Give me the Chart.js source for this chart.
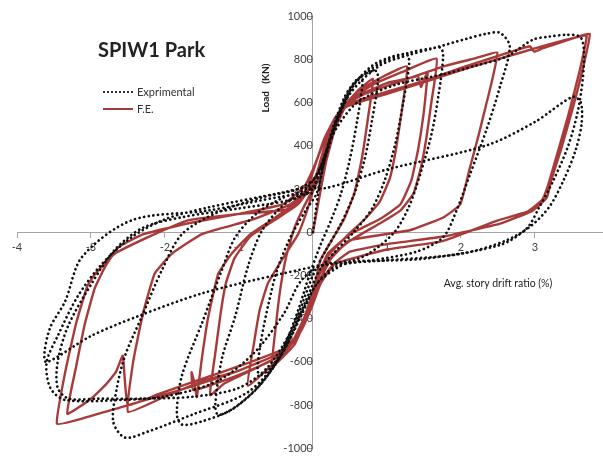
<!DOCTYPE html>
<html>
<head>
<meta charset="utf-8">
<script src="https://cdn.jsdelivr.net/npm/chart.js@4.4.1/dist/chart.umd.min.js"></script>
<style>
	html, body {
		margin: 0;
		padding: 0;
		background: #ffffff;
	}
	#wrap {
		position: relative;
		width: 603px;
		height: 459px;
		font-family: Lato, "Open Sans", sans-serif;
	}
	canvas {
		position: absolute;
		left: 0;
		top: 0;
	}
	.label {
		position: absolute;
		white-space: nowrap;
		line-height: 1;
		color: #333333;
	}
	.sample {
		position: absolute;
		width: 30px;
		height: 0;
	}
</style>
</head>
<body>
<div id="wrap">
	<canvas id="chart" width="603" height="459"></canvas>
	<div class="label" style="left: 98px; top: 39px; font-size: 20px; font-weight: bold; color: #222222;">SPIW1 Park</div>
	<div class="sample" style="left: 103px; top: 91px; border-top: 2px dotted #333333;"></div>
	<div class="label" style="left: 137px; top: 86px; font-size: 11px;">Exprimental</div>
	<div class="sample" style="left: 103px; top: 108px; border-top: 2px solid #a83a3a;"></div>
	<div class="label" style="left: 137px; top: 103px; font-size: 11px;">F.E.</div>
	<div class="label" style="left: 265px; top: 88px; font-size: 10px; font-weight: bold; color: #222222; transform: translate(-50%, -50%) rotate(-90deg);">Load&nbsp;&nbsp;&nbsp;(KN)</div>
	<div class="label" style="left: 498px; top: 283px; font-size: 10.5px; color: #222222; transform: translate(-50%, -50%);">Avg. story drift ratio (%)</div>
</div>
<script>
// drift ratio (%), load (kN), one array per cycle
const expCycle1 = [
	[0, 0], [0.1, 240], [0.25, 460], [0.42, 620], [0.55, 690], [0.64, 717], [0.67, 690],
	[0.6, 520], [0.5, 340], [0.38, 180], [0.25, 60], [0.1, -60], [-0.05, -200], [-0.2, -360],
	[-0.38, -520], [-0.55, -620], [-0.7, -660], [-0.75, -640], [-0.7, -500], [-0.6, -330],
	[-0.48, -170], [-0.3, -20], [-0.1, 100], [0.05, 180]
];
const expCycle2 = [
	[0.15, 320], [0.3, 500], [0.48, 650], [0.65, 720], [0.8, 745], [0.86, 744], [0.88, 700],
	[0.8, 520], [0.7, 340], [0.56, 180], [0.38, 40], [0.18, -80], [0, -200], [-0.2, -380],
	[-0.45, -580], [-0.75, -720], [-1.05, -810], [-1.28, -845], [-1.32, -800], [-1.23, -584],
	[-1.05, -388], [-0.88, -160], [-0.7, 0], [-0.45, 110], [-0.2, 170], [0, 210]
];
const expCycle3 = [
	[0.15, 330], [0.35, 530], [0.55, 680], [0.8, 770], [1.05, 810], [1.27, 822], [1.3, 780],
	[1.22, 600], [1.12, 420], [0.98, 250], [0.8, 110], [0.55, 0], [0.3, -90], [0.1, -170],
	[-0.1, -320], [-0.35, -520], [-0.7, -700], [-1.1, -820], [-1.5, -875], [-1.77, -890],
	[-1.84, -840], [-1.77, -662], [-1.5, -420], [-1.23, -174], [-1.05, -23], [-0.75, 90],
	[-0.4, 160], [-0.1, 200]
];
const expCycle4 = [
	[0.1, 300], [0.3, 500], [0.55, 680], [0.9, 780], [1.3, 830], [1.6, 850], [1.72, 854],
	[1.76, 820], [1.7, 640], [1.6, 450], [1.46, 280], [1.3, 120], [1.1, 0], [0.75, -100],
	[0.35, -160], [0.05, -240], [-0.15, -380], [-0.45, -580], [-0.88, -740], [-1.64, -845],
	[-2.23, -922], [-2.54, -950], [-2.7, -876], [-2.65, -720], [-2.54, -571], [-2.31, -388],
	[-2.04, -174], [-1.77, -9], [-1.3, 90], [-0.7, 160], [-0.2, 200]
];
const expCycle5 = [
	[0.05, 260], [0.25, 450], [0.5, 640], [0.9, 770], [1.3, 820], [1.62, 850], [2.08, 895],
	[2.35, 918], [2.53, 922], [2.66, 858], [2.53, 676], [2.35, 479], [2.12, 265], [1.94, 100],
	[1.76, -23], [1.4, -90], [0.8, -130], [0.3, -160], [0.05, -240], [-0.2, -400], [-0.6, -620],
	[-1.0, -720], [-1.6, -760], [-2.3, -770], [-2.9, -770], [-3.3, -770], [-3.45, -720],
	[-3.45, -600], [-3.31, -434], [-2.99, -237], [-2.68, -82], [-2.3, 20], [-1.76, 70],
	[-1.0, 110], [-0.3, 150], [0, 200]
];
const expCycle6 = [
	[0.1, 300], [0.3, 470], [0.6, 600], [1.1, 680], [1.76, 730], [2.2, 770], [2.62, 813],
	[2.97, 890], [3.2, 905], [3.43, 913], [3.61, 904], [3.66, 850], [3.65, 720], [3.58, 560],
	[3.45, 400], [3.25, 240], [3.05, 110], [2.89, 18], [2.53, -59], [1.49, -123], [0.19, -146],
	[-0.15, -220], [-0.4, -380], [-0.8, -560], [-1.3, -690], [-2.0, -760], [-2.6, -776],
	[-3.35, -776], [-3.55, -720], [-3.6, -602], [-3.45, -480], [-3.18, -297], [-2.85, -146],
	[-2.45, -23], [-2.0, 60], [-1.42, 114], [-0.42, 183], [-0.1, 205], [0.19, 205]
];
const expCycle7 = [
	[1.0, 290], [2.35, 402], [3.0, 510], [3.51, 626], [3.62, 600], [3.63, 500], [3.55, 380],
	[3.4, 250], [3.2, 120], [2.95, 30], [2.6, -40], [2.0, -100], [1.0, -130], [0.2, -150],
	[-0.42, -192], [-1.5, -283], [-2.36, -388], [-3.0, -480], [-3.6, -602], [-3.63, -560],
	[-3.55, -440], [-3.35, -320], [-3.12, -114], [-2.45, 55], [-1.42, 100], [-0.42, 165], [0, 180]
];

const feCycle1 = [
	[0, 0], [0.08, 150], [0.18, 330], [0.3, 480], [0.45, 590], [0.62, 660], [0.81, 708],
	[0.74, 520], [0.66, 340], [0.56, 180], [0.42, 60], [0.25, -40], [0.1, -130], [0.02, -250],
	[-0.1, -400], [-0.25, -520], [-0.55, -620], [-0.5, -430], [-0.44, -260], [-0.36, -110],
	[-0.25, 20], [-0.12, 120], [0, 200]
];
const feCycle2 = [
	[0.1, 330], [0.22, 460], [0.38, 570], [0.6, 650], [0.95, 720], [1.27, 767],
	[1.2, 560], [1.12, 380], [1.04, 250], [0.9, 140], [0.7, 60], [0.45, -20], [0.2, -110],
	[0.06, -220], [-0.05, -350], [-0.2, -480], [-0.45, -580], [-0.88, -710], [-0.8, -520],
	[-0.72, -360], [-0.61, -237], [-0.42, -128], [-0.2, -9], [-0.08, 100], [0, 190]
];
const feCycle3 = [
	[0.1, 260], [0.25, 460], [0.42, 590], [0.8, 680], [1.2, 740], [1.67, 803],
	[1.6, 600], [1.53, 430], [1.46, 300], [1.36, 180], [1.18, 100], [0.9, 40], [0.5, -40],
	[0.25, -110], [0.08, -200], [-0.05, -330], [-0.2, -470], [-0.45, -570], [-0.9, -650],
	[-1.2, -700], [-1.39, -753], [-1.32, -560], [-1.25, -380], [-1.18, -240], [-1.06, -120],
	[-0.85, -20], [-0.5, 60], [-0.2, 130], [-0.05, 200]
];
const feCycle4 = [
	[0.05, 260], [0.2, 430], [0.38, 560], [0.6, 630], [1.0, 690], [1.3, 712], [1.42, 722],
	[1.46, 672], [1.5, 705], [1.55, 740], [1.5, 560], [1.42, 380], [1.33, 240], [1.18, 128],
	[0.9, 60], [0.5, -10], [0.2, -100], [0.05, -220], [-0.1, -380], [-0.3, -520], [-0.6, -600],
	[-1.0, -660], [-1.45, -715], [-1.62, -730], [-1.64, -648], [-1.6, -700], [-1.57, -762],
	[-1.5, -580], [-1.42, -400], [-1.28, -192], [-1.1, -100], [-0.85, -10], [-0.5, 70],
	[-0.2, 150], [-0.05, 210]
];
const feCycle5 = [
	[0.05, 270], [0.2, 440], [0.4, 580], [0.7, 640], [1.2, 700], [1.8, 770], [2.2, 805],
	[2.49, 831], [2.42, 700], [2.35, 603], [2.24, 450], [2.12, 297], [1.99, 128], [1.76, 68],
	[1.31, 9], [0.5, -37], [0.25, -120], [0.08, -230], [-0.05, -360], [-0.22, -490],
	[-0.45, -560], [-1.0, -640], [-1.5, -690], [-2.0, -760], [-2.5, -831], [-2.43, -600],
	[-2.3, -380], [-2.14, -192], [-1.91, -100], [-1.5, -9], [-0.8, 60], [-0.3, 130], [-0.08, 200]
];
const feCycle6 = [
	[0.02, 300], [0.15, 430], [0.3, 530], [0.45, 590], [1.0, 650], [1.5, 700], [2.0, 760],
	[2.5, 815], [2.93, 860], [2.99, 835], [3.1, 850], [3.5, 895], [3.74, 918], [3.65, 760],
	[3.5, 560], [3.35, 380], [3.22, 240], [3.16, 160], [2.97, 100], [2.53, 40], [1.76, -20],
	[1.0, -55], [0.5, -90], [0.28, -146], [0.12, -220], [0, -330], [-0.15, -450], [-0.4, -540],
	[-1.0, -620], [-1.6, -690], [-2.1, -750], [-2.5, -800], [-2.57, -571], [-2.66, -645],
	[-2.8, -705], [-3.0, -770], [-3.32, -840], [-3.2, -620], [-3.08, -420], [-2.95, -260],
	[-2.81, -160], [-2.63, -70], [-2.3, -10], [-1.7, 40], [-1.0, 85], [-0.4, 130], [-0.12, 210]
];
const feCycle7 = [
	[0, 290], [0.15, 420], [0.3, 520], [0.45, 580], [1.0, 640], [1.6, 705], [2.2, 770],
	[2.8, 830], [3.2, 870], [3.6, 905], [3.7, 910], [3.6, 740], [3.45, 540], [3.3, 360],
	[3.18, 220], [3.1, 150], [2.9, 95], [2.5, 55], [1.75, -41], [1.0, -80], [0.3, -146],
	[0.1, -240], [-0.02, -350], [-0.2, -480], [-0.45, -560], [-1.0, -640], [-1.8, -730],
	[-2.6, -810], [-3.1, -860], [-3.46, -886], [-3.35, -650], [-3.2, -420], [-3.05, -250],
	[-2.95, -196], [-2.68, -100], [-2.23, -23], [-1.69, 55], [-1.0, 85], [-0.34, 105],
	[-0.1, 180], [0, 230]
];

const driftTicks = [-4, -3, -2, -1, 1, 2, 3];
const loadTicks = [-1000, -800, -600, -400, -200, 0, 200, 400, 600, 800, 1000];

function toPoints(cycles) {
	return [].concat(...cycles).map(p => ({ x: p[0], y: p[1] }));
}

function drawChart() {
	const context = document.getElementById("chart").getContext("2d");
	const tickFont = { family: "Lato, 'Open Sans', sans-serif", size: 11 };
	const datasets = [
		{
			label: "Exprimental",
			data: toPoints([expCycle1, expCycle2, expCycle3, expCycle4, expCycle5, expCycle6, expCycle7]),
			borderColor: "#111111",
			borderWidth: 2.7,
			borderDash: [0.1, 4.6],
			borderCapStyle: "round",
			tension: 0.3,
			order: 0
		},
		{
			label: "F.E.",
			data: toPoints([feCycle1, feCycle2, feCycle3, feCycle4, feCycle5, feCycle6, feCycle7]),
			borderColor: "#a83a3a",
			borderWidth: 2.4,
			borderJoinStyle: "round",
			tension: 0.12,
			order: 1
		}
	];
	const options = {
		type: "scatter",
		data: {
			datasets: datasets
		},
		options: {
			responsive: false,
			animation: false,
			devicePixelRatio: 1,
			showLine: true,
			elements: {
				point: {
					radius: 0
				}
			},
			layout: {
				padding: { left: 17, right: 0, top: 16, bottom: 5 }
			},
			plugins: {
				legend: { display: false },
				tooltip: { enabled: false }
			},
			scales: {
				x: {
					type: "linear",
					position: { y: 0 },
					min: -4,
					max: 3.92,
					afterBuildTicks: axis => {
						axis.ticks = driftTicks.map(v => ({ value: v }));
					},
					ticks: {
						font: tickFont,
						color: "#404040",
						padding: 4,
						maxRotation: 0,
						callback: value => String(value)
					},
					grid: {
						drawOnChartArea: false,
						color: "#a6a6a6",
						tickLength: 5
					},
					border: { color: "#a6a6a6", width: 1 }
				},
				y: {
					type: "linear",
					position: { x: 0 },
					min: -1000,
					max: 1000,
					afterBuildTicks: axis => {
						axis.ticks = loadTicks.map(v => ({ value: v }));
					},
					ticks: {
						font: tickFont,
						color: "#404040",
						padding: 4,
						callback: value => String(value)
					},
					grid: {
						drawOnChartArea: false,
						color: "#a6a6a6",
						tickLength: 4
					},
					border: { color: "#a6a6a6", width: 1 }
				}
			}
		}
	};
	new Chart(context, options);
}

document.addEventListener("DOMContentLoaded", _ => drawChart());
</script>
</body>
</html>
